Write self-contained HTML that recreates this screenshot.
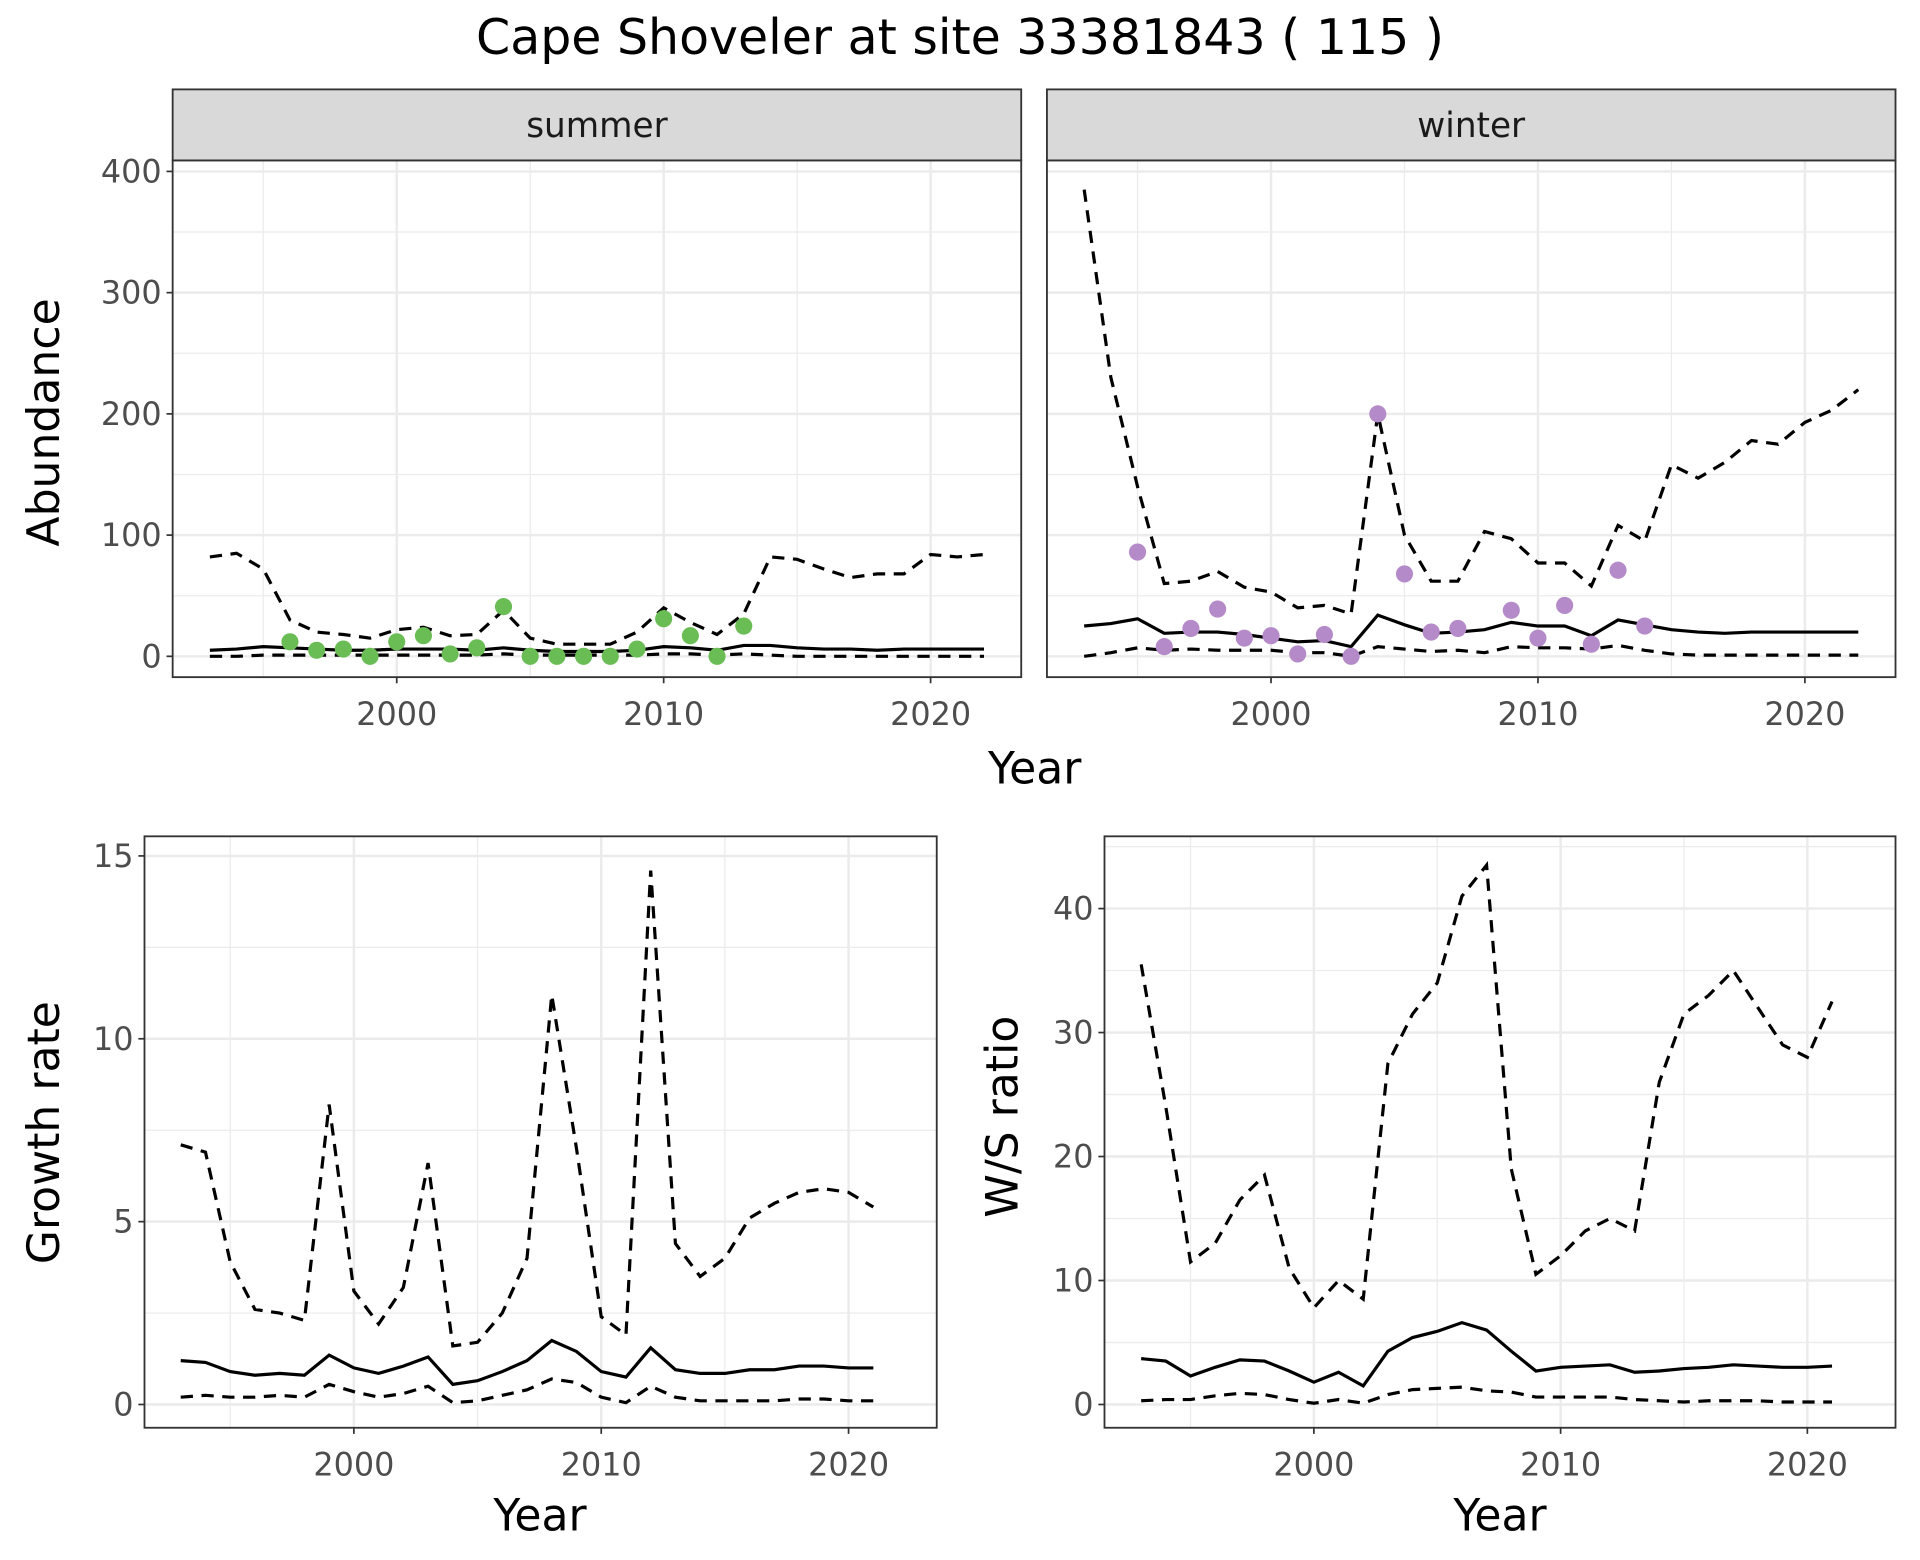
<!DOCTYPE html>
<html><head><meta charset="utf-8"><style>
html,body{margin:0;padding:0;background:#fff}
svg{display:block}
text{font-family:"DejaVu Sans","Liberation Sans",sans-serif}
</style></head><body>
<svg id="chart" xmlns="http://www.w3.org/2000/svg" width="1920" height="1560" viewBox="0 0 1568 1274">
<rect x="0" y="0" width="1568" height="1274" fill="#fff"/>
<text x="784" y="44" text-anchor="middle" font-size="40" fill="#000">Cape Shoveler at site 33381843 ( 115 )</text>
<g id="root"></g>
</svg>
<script>
const topYears=[1993,1994,1995,1996,1997,1998,1999,2000,2001,2002,2003,2004,2005,2006,2007,2008,2009,2010,2011,2012,2013,2014,2015,2016,2017,2018,2019,2020,2021,2022];
const summerUpper=[82,85,72,30,20,18,15,22,24,17,18,38,15,10,10,10,20,40,28,18,35,82,80,72,65,68,68,84,82,84];
const summerMean=[5,6,8,7,6,5,5,6,6,6,5,7,5,4,4,4,5,8,7,5,9,9,7,6,6,5,6,6,6,6];
const summerLower=[0,0,1,1,1,1,1,1,1,1,1,2,1,1,1,1,1,2,2,1,2,1,0,0,0,0,0,0,0,0];
const summerObsYears=[1996,1997,1998,1999,2000,2001,2002,2003,2004,2005,2006,2007,2008,2009,2010,2011,2012,2013];
const summerObs=[12,5,6,0,12,17,2,7,41,0,0,0,0,6,31,17,0,25];
const winterUpper=[385,230,140,60,62,70,57,53,40,42,35,200,100,62,62,103,97,77,77,58,108,95,158,147,160,178,175,193,203,220];
const winterMean=[25,27,31,19,20,20,18,15,12,13,8,34,26,19,20,22,28,25,25,17,30,26,22,20,19,20,20,20,20,20];
const winterLower=[0,3,7,5,6,5,5,5,3,3,0,8,6,4,5,3,8,7,7,6,9,5,2,1,1,1,1,1,1,1];
const winterObsYears=[1995,1996,1997,1998,1999,2000,2001,2002,2003,2004,2005,2006,2007,2009,2010,2011,2012,2013,2014];
const winterObs=[86,8,23,39,15,17,2,18,0,200,68,20,23,38,15,42,10,71,25];
const botYears=[1993,1994,1995,1996,1997,1998,1999,2000,2001,2002,2003,2004,2005,2006,2007,2008,2009,2010,2011,2012,2013,2014,2015,2016,2017,2018,2019,2020,2021];
const growthUpper=[7.1,6.9,3.9,2.6,2.5,2.3,8.2,3.1,2.2,3.2,6.6,1.6,1.7,2.5,4.0,11.2,7.0,2.4,1.9,14.6,4.4,3.5,4.0,5.1,5.5,5.8,5.9,5.8,5.4];
const growthMean=[1.2,1.15,0.9,0.8,0.85,0.8,1.35,1.0,0.85,1.05,1.3,0.55,0.65,0.9,1.2,1.75,1.45,0.9,0.75,1.55,0.95,0.85,0.85,0.95,0.95,1.05,1.05,1.0,1.0];
const growthLower=[0.2,0.25,0.2,0.2,0.25,0.2,0.55,0.35,0.2,0.3,0.5,0.05,0.1,0.25,0.4,0.7,0.6,0.2,0.05,0.5,0.2,0.1,0.1,0.1,0.1,0.15,0.15,0.1,0.1];
const ratioUpper=[35.5,24,11.5,13,16.5,18.5,11,7.8,10,8.5,27.5,31.5,34,41,43.5,19,10.5,12,14,15,14,26,31.5,33,35,32,29,28,32.5];
const ratioMean=[3.7,3.5,2.3,3,3.6,3.5,2.7,1.8,2.6,1.5,4.3,5.4,5.9,6.6,6,4.3,2.7,3,3.1,3.2,2.6,2.7,2.9,3,3.2,3.1,3,3,3.1];
const ratioLower=[0.3,0.4,0.4,0.7,0.9,0.8,0.4,0.1,0.4,0.1,0.8,1.2,1.3,1.4,1.1,1.0,0.6,0.6,0.6,0.6,0.4,0.3,0.2,0.3,0.3,0.3,0.2,0.2,0.2];
const xTickLabels=[2000,2010,2020];
const abundTicks=[0,100,200,300,400];
const growthTicks=[0,5,10,15];
const ratioTicks=[0,10,20,30,40];

const NS="http://www.w3.org/2000/svg";
const root=document.getElementById('root');
function el(tag,attrs,parent){const e=document.createElementNS(NS,tag);for(const k in attrs)e.setAttribute(k,attrs[k]);(parent||root).appendChild(e);return e;}
function lin(d0,d1,r0,r1){return v=>r0+(v-d0)*(r1-r0)/(d1-d0);}

function panel(o){
  const g=el('g',{});
  
  
  const x=lin(2000,2020,o.x2000,o.x2020), y=lin(0,o.yRefVal,o.y0,o.yRef);
  el('rect',{x:o.l,y:o.t,width:o.r-o.l,height:o.b-o.t,fill:'#fff'},g);
  for(let yr=1995;yr<=2025;yr+=10){const px=x(yr);if(px>o.l&&px<o.r){const m=el('line',{x1:px,x2:px,y1:o.t,y2:o.b,stroke:'#ebebeb','stroke-width':1},g);}}
  for(let i=0;i<o.ticks.length+1;i++){const v=o.ticks[0]+(i+0.5)*o.step;const py=y(v);if(py>o.t&&py<o.b){const m=el('line',{x1:o.l,x2:o.r,y1:py,y2:py,stroke:'#ebebeb','stroke-width':1},g);}}
  xTickLabels.forEach(v=>{const px=x(v);const m=el('line',{x1:px,x2:px,y1:o.t,y2:o.b,stroke:'#ebebeb','stroke-width':2},g);
    if(o.showX){el('line',{x1:px,x2:px,y1:o.b,y2:o.b+5,stroke:'#333','stroke-width':1.4},g);const t=el('text',{x:px,y:o.b+39,'text-anchor':'middle','font-size':26,fill:'#4d4d4d'},g);t.textContent=v;}});
  o.ticks.forEach(v=>{const py=y(v);const m=el('line',{x1:o.l,x2:o.r,y1:py,y2:py,stroke:'#ebebeb','stroke-width':2},g);
    if(o.showY){el('line',{x1:o.l-5,x2:o.l,y1:py,y2:py,stroke:'#333','stroke-width':1.4},g);const t=el('text',{x:o.l-9,y:py+9,'text-anchor':'end','font-size':26,fill:'#4d4d4d'},g);t.textContent=v;}});
  const line=(ys,vals,dash,name)=>{const p=el('polyline',{points:ys.map((yr,i)=>x(yr)+','+y(vals[i])).join(' '),fill:'none',stroke:'#000','stroke-width':2.6,'stroke-dasharray':dash?'10,7':'none'},g);};
  line(o.years,o.upper,true,'upper-ci-line');
  line(o.years,o.lower,true,'lower-ci-line');
  line(o.years,o.mean,false,'mean-line');
  if(o.obs){o.obsYears.forEach((yr,i)=>{const c=el('circle',{cx:x(yr),cy:y(o.obs[i]),r:7,fill:o.color},g);});}
  el('rect',{x:o.l,y:o.t,width:o.r-o.l,height:o.b-o.t,fill:'none',stroke:'#333','stroke-width':1.5},g);
  if(o.strip){const s=el('rect',{x:o.l,y:o.t-58,width:o.r-o.l,height:58,fill:'#d9d9d9',stroke:'#333','stroke-width':1.5},g);
    const t=el('text',{x:(o.l+o.r)/2,y:o.t-19,'text-anchor':'middle','font-size':28,fill:'#1a1a1a'},g);t.textContent=o.strip;}
}
function txt(s,x,y,size,name,rot){const t=el('text',{x:x,y:y,'text-anchor':'middle','font-size':size,fill:'#000'});if(rot)t.setAttribute('transform','rotate(-90 '+x+' '+y+')');t.textContent=s;}

panel({name:'summer-panel',l:141,r:834,t:131,b:553,x2000:324,x2020:760,y0:536,yRef:140,yRefVal:400,ticks:abundTicks,step:100,showX:true,showY:true,years:topYears,upper:summerUpper,mean:summerMean,lower:summerLower,obs:summerObs,obsYears:summerObsYears,color:'#6abd55',strip:'summer'});
panel({name:'winter-panel',l:855,r:1548,t:131,b:553,x2000:1038,x2020:1474,y0:536,yRef:140,yRefVal:400,ticks:abundTicks,step:100,showX:true,showY:false,years:topYears,upper:winterUpper,mean:winterMean,lower:winterLower,obs:winterObs,obsYears:winterObsYears,color:'#b48ac8',strip:'winter'});
panel({name:'growth-rate-panel',l:118,r:765,t:683,b:1166,x2000:289,x2020:693,y0:1147,yRef:699,yRefVal:15,ticks:growthTicks,step:5,showX:true,showY:true,years:botYears,upper:growthUpper,mean:growthMean,lower:growthLower});
panel({name:'ws-ratio-panel',l:902,r:1548,t:683,b:1166,x2000:1073,x2020:1476,y0:1147,yRef:742,yRefVal:40,ticks:ratioTicks,step:10,showX:true,showY:true,years:botYears,upper:ratioUpper,mean:ratioMean,lower:ratioLower});
txt('Year',845,640,36,'x-axis-title-top');
txt('Abundance',48,345,36,'y-axis-title-abundance',true);
txt('Year',441,1250,36,'x-axis-title-growth');
txt('Growth rate',48,925,36,'y-axis-title-growth',true);
txt('Year',1225,1250,36,'x-axis-title-ratio');
txt('W/S ratio',831,912,36,'y-axis-title-ratio',true);
</script>
</body></html>
